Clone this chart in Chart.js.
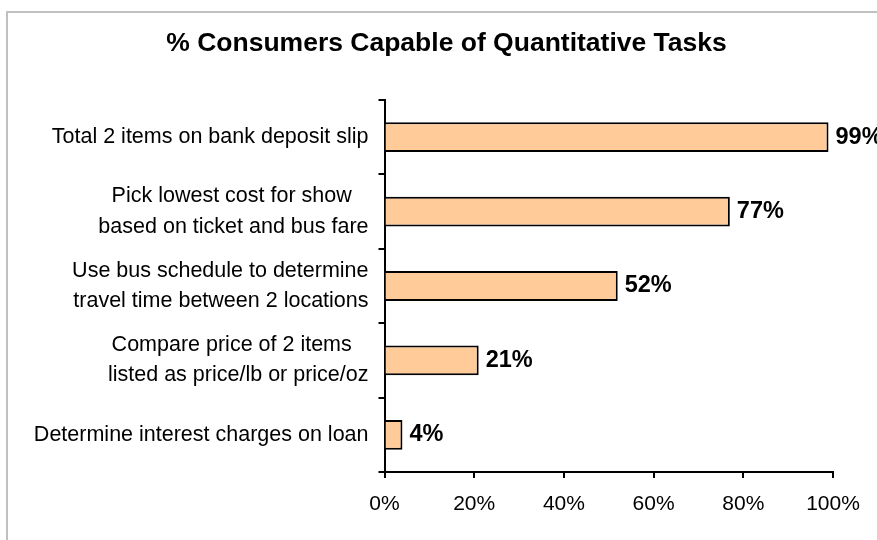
<!DOCTYPE html>
<html>
<head>
<meta charset="utf-8">
<script src="https://cdn.jsdelivr.net/npm/chart.js@4"></script>
<style>
html,body{margin:0;padding:0;background:#fff;overflow:hidden;}
#frame{position:absolute;left:6px;top:11px;width:1000px;height:1000px;border-left:2px solid #c0c0c0;border-top:2px solid #c0c0c0;}
#c{position:absolute;left:0;top:0;}
</style>
</head>
<body>
<div id="frame"></div>
<canvas id="c" width="877" height="540"></canvas>
<script>
const chartTitle='% Consumers Capable of Quantitative Tasks';
// multi-line labels; trailing spaces mimic the centred lines of the original
const tasks=[
  'Total 2 items on bank deposit slip',
  ['Pick lowest cost for show\u2002 ','based on ticket and bus fare'],
  ['Use bus schedule to determine','travel time between 2 locations'],
  ['Compare price of 2 items\u2002 ','listed as price/lb or price/oz'],
  'Determine interest charges on loan'
];
const pctCapable=[99,77,52,21,4];
const xMin=0, xMax=100, xStep=20;

const FONT='"Liberation Sans", Arial, sans-serif';
Chart.defaults.font.family=FONT;
Chart.defaults.color='#000';

// bold % label to the right of each bar
const valueLabels={
  id:'valueLabels',
  afterDatasetsDraw(chart){
    const ctx=chart.ctx, meta=chart.getDatasetMeta(0);
    ctx.save();
    ctx.font='bold 23.5px '+FONT;
    ctx.fillStyle='#000';
    ctx.textAlign='left';
    ctx.textBaseline='middle';
    meta.data.forEach((bar,i)=>ctx.fillText(pctCapable[i]+'%',bar.x+7,bar.y));
    ctx.restore();
  }
};

// title centred over the whole chart frame, not the plot box
const frameTitle={
  id:'frameTitle',
  afterDraw(chart){
    const ctx=chart.ctx;
    ctx.save();
    ctx.font='bold 26.5px '+FONT;
    ctx.fillStyle='#000';
    ctx.textAlign='center';
    ctx.textBaseline='middle';
    ctx.fillText(chartTitle,446.5,44);
    ctx.restore();
  }
};

new Chart(document.getElementById('c'),{
  type:'bar',
  data:{
    labels:tasks,
    datasets:[{
      data:pctCapable,
      backgroundColor:'#ffcc99',
      borderColor:'#000',
      borderWidth:2,
      borderSkipped:'start',
      barPercentage:0.4,
      categoryPercentage:1
    }]
  },
  options:{
    indexAxis:'y',
    responsive:false,
    animation:false,
    layout:{padding:{left:0,right:44,top:100,bottom:0}},
    plugins:{
      legend:{display:false},
      tooltip:{enabled:false},
      title:{display:false}
    },
    scales:{
      x:{
        min:xMin,max:xMax,
        border:{display:true,color:'#000',width:2},
        grid:{drawOnChartArea:false,color:'#000',lineWidth:2,tickLength:6},
        ticks:{stepSize:xStep,padding:14,font:{size:21},callback:v=>v+'%'},
        afterFit(s){ s.height=68; }
      },
      y:{
        border:{display:true,color:'#000',width:2},
        grid:{drawOnChartArea:false,color:'#000',lineWidth:2,tickLength:6,offset:true},
        ticks:{padding:10,font:{size:21.5,lineHeight:1.4}},
        afterFit(s){ s.width=384.5; }
      }
    }
  },
  plugins:[valueLabels,frameTitle]
});
</script>
</body>
</html>
